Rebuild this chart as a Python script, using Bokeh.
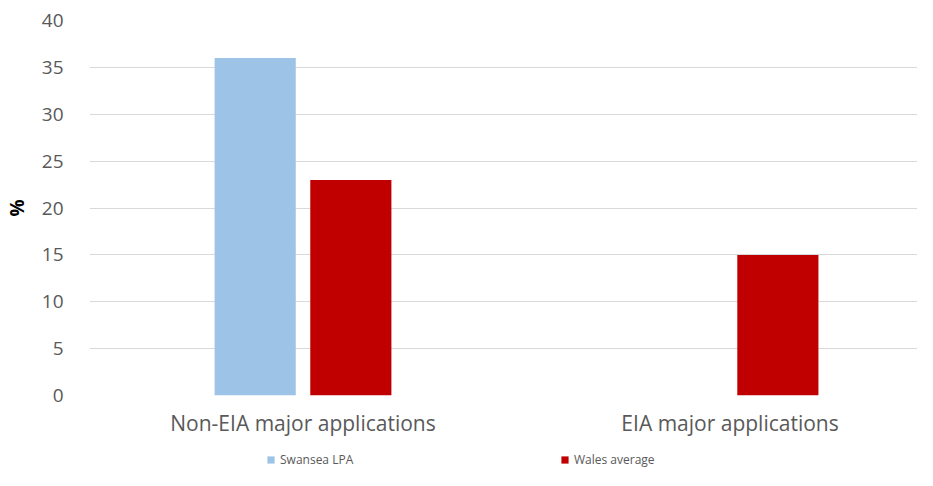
from bokeh.plotting import figure
from bokeh.models import ColumnDataSource, Range1d, FixedTicker, Legend, LegendItem
from bokeh.layouts import column
from bokeh.transform import dodge
from bokeh.embed import file_html
from bokeh.resources import INLINE

categories = ["Non-EIA major applications", "EIA major applications"]
series_names = ["Swansea LPA", "Wales average"]
swansea_lpa = [36, 0]
wales_average = [23, 15]
y_ticks = [0, 5, 10, 15, 20, 25, 30, 35, 40]
colors = ["#9DC3E6", "#C00000"]

xpos = [i + 0.5 for i in range(len(categories))]
src = ColumnDataSource(dict(x=xpos, swansea=swansea_lpa, wales=wales_average))

p = figure(width=917, height=447, output_backend="svg", toolbar_location=None,
           x_range=Range1d(0, 1.939), y_range=Range1d(0, 40),
           min_border_left=88, min_border_right=0, min_border_top=20,
           min_border_bottom=52)
p.outline_line_color = None
p.background_fill_color = "white"
p.border_fill_color = "white"

bw = 0.19
p.vbar(x=dodge("x", -0.112), top="swansea", width=bw, source=src,
       fill_color=colors[0], line_color=None)
p.vbar(x=dodge("x", 0.112), top="wales", width=bw, source=src,
       fill_color=colors[1], line_color=None)

font = "Open Sans"
p.xaxis.ticker = FixedTicker(ticks=xpos)
p.xaxis.major_label_overrides = {x: c for x, c in zip(xpos, categories)}
p.xaxis.axis_line_color = None
p.xaxis.major_tick_line_color = None
p.xaxis.minor_tick_line_color = None
p.xaxis.major_label_text_font = font
p.xaxis.major_label_text_font_size = "21px"
p.xaxis.major_label_text_color = "#595959"
p.xaxis.major_label_standoff = 7

p.yaxis.ticker = FixedTicker(ticks=y_ticks)
p.yaxis.axis_line_color = None
p.yaxis.major_tick_line_color = None
p.yaxis.minor_tick_line_color = None
p.yaxis.major_label_text_font = font
p.yaxis.major_label_text_font_size = "19px"
p.yaxis.major_label_text_color = "#595959"
p.yaxis.major_label_standoff = 20
p.yaxis.axis_label = "%"
p.yaxis.axis_label_text_font = font
p.yaxis.axis_label_text_font_size = "19px"
p.yaxis.axis_label_text_font_style = "bold"
p.yaxis.axis_label_text_color = "#000000"
p.yaxis.axis_label_standoff = 9

p.xgrid.grid_line_color = None
p.ygrid.grid_line_color = "#D9D9D9"
p.ygrid.grid_line_width = 1

# legend strip (its key renderers are hidden; the legend shows their colours)
lg = figure(width=917, height=23, output_backend="svg", toolbar_location=None,
            x_range=Range1d(0, 1.939), y_range=Range1d(0, 40),
            x_axis_location=None, y_axis_location=None,
            min_border_left=0, min_border_right=0, min_border_top=0,
            min_border_bottom=0)
lg.grid.grid_line_color = None
lg.outline_line_color = None
k1 = lg.vbar(x="x", top="swansea", width=bw, source=src,
             fill_color=colors[0], line_color=None, visible=False)
k2 = lg.vbar(x="x", top="wales", width=bw, source=src,
             fill_color=colors[1], line_color=None, visible=False)

legend = Legend(items=[LegendItem(label=series_names[0], renderers=[k1]),
                       LegendItem(label=series_names[1], renderers=[k2])],
                orientation="horizontal", location=(177, 2))
legend.glyph_width = 9
legend.glyph_height = 9
legend.label_height = 14
legend.label_standoff = 5
legend.label_width = 80
legend.spacing = 200
legend.padding = 0
legend.margin = 0
legend.border_line_color = None
legend.background_fill_alpha = 0
legend.inactive_fill_alpha = 0
legend.label_text_font = font
legend.label_text_font_size = "12px"
legend.label_text_color = "#595959"
lg.add_layout(legend, "center")

open("out.html", "w").write(file_html(column(p, lg, spacing=0), INLINE))
